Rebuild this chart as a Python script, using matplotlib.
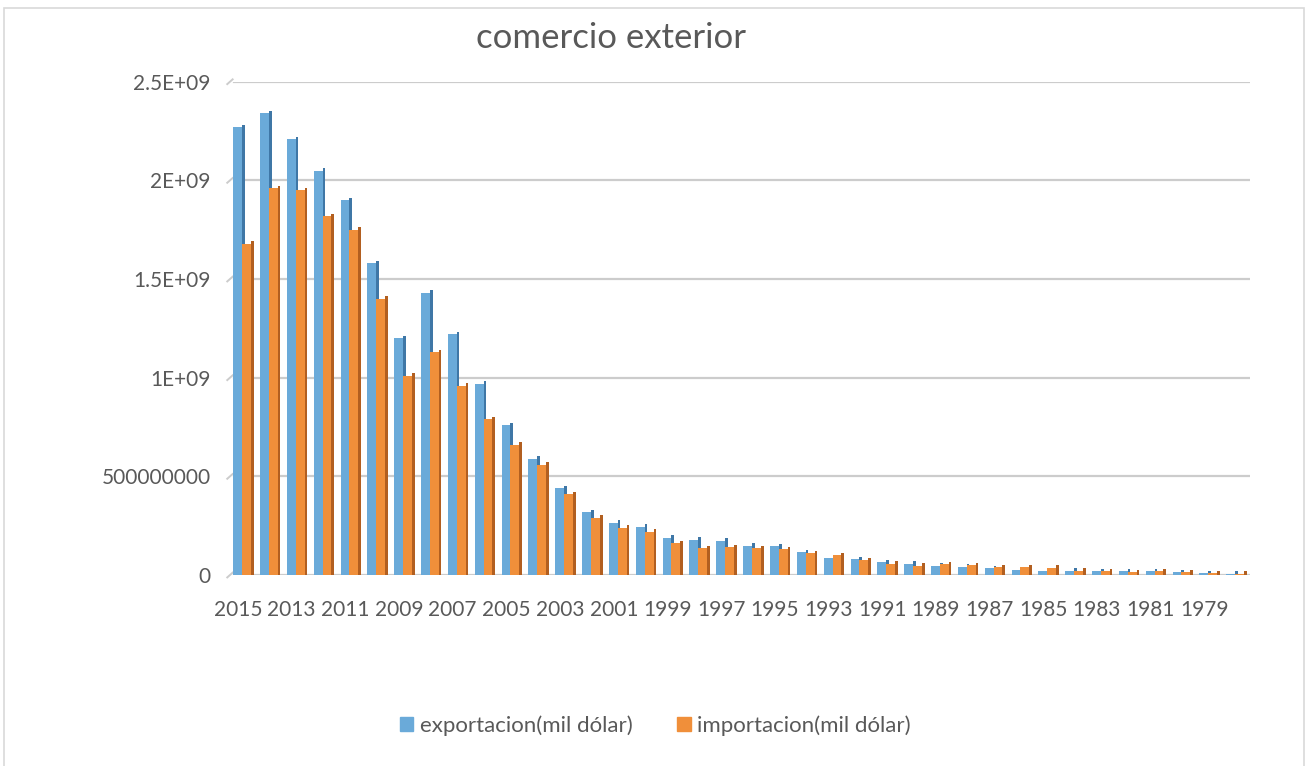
import matplotlib.pyplot as plt
from matplotlib.patches import Rectangle

years = list(range(2015, 1977, -1))
exportacion = [2.27e9, 2.34e9, 2.21e9, 2.05e9, 1.90e9, 1.58e9, 1.20e9, 1.43e9, 1.22e9, 0.97e9,
               0.76e9, 0.59e9, 0.44e9, 0.32e9, 0.265e9, 0.245e9, 0.19e9, 0.18e9, 0.175e9, 0.148e9,
               0.145e9, 0.117e9, 0.087e9, 0.080e9, 0.066e9, 0.058e9, 0.048e9, 0.043e9, 0.036e9, 0.028e9,
               0.022e9, 0.022e9, 0.018e9, 0.018e9, 0.018e9, 0.014e9, 0.010e9, 0.006e9]
importacion = [1.68e9, 1.96e9, 1.95e9, 1.82e9, 1.75e9, 1.40e9, 1.01e9, 1.13e9, 0.96e9, 0.79e9,
               0.66e9, 0.56e9, 0.41e9, 0.29e9, 0.24e9, 0.22e9, 0.16e9, 0.135e9, 0.14e9, 0.135e9,
               0.13e9, 0.112e9, 0.100e9, 0.076e9, 0.058e9, 0.048e9, 0.055e9, 0.050e9, 0.040e9, 0.040e9,
               0.037e9, 0.022e9, 0.018e9, 0.016e9, 0.019e9, 0.016e9, 0.010e9, 0.007e9]
yticks = [0, 5e8, 1e9, 1.5e9, 2e9, 2.5e9]
ytick_labels = ['0', '500000000', '1E+09', '1.5E+09', '2E+09', '2.5E+09']

plt.rcParams['font.family'] = ['Lato', 'DejaVu Sans']
text_color = '#595959'
blue, blue_dark = '#6aaad9', '#3f77a6'
orange, orange_dark = '#f08f3a', '#b25f20'

fig = plt.figure(figsize=(13.11, 7.66), dpi=100)
fig.patches.append(Rectangle((0.003, -0.01), 0.992, 1.0, transform=fig.transFigure,
                             fill=False, edgecolor='#d9d9d9', linewidth=1.2))
ax = fig.add_axes([0.1754, 0.2493, 0.778, 0.644])

n = len(years)
x = list(range(n))
bw = 0.33
side = 0.1
lift = 0.012e9

# grid lines with the little slanted "wall" segment on the left
for yv in yticks:
    ax.axhline(yv, color='#cccccc', linewidth=1.6, zorder=0, xmin=0.004)
    ax.plot([-0.6, -0.4], [yv - lift, yv + lift], color='#cccccc', linewidth=1.4,
            clip_on=False, zorder=0)

xb = [i - 0.38 for i in x]
xo = [i - 0.05 for i in x]
ax.bar(xb, exportacion, width=bw, align='edge', color=blue, zorder=2)
ax.bar([v + bw for v in xb], [v + lift for v in exportacion], width=side, align='edge',
       color=blue_dark, zorder=1)
ax.bar(xo, importacion, width=bw, align='edge', color=orange, zorder=3)
ax.bar([v + bw for v in xo], [v + lift for v in importacion], width=side, align='edge',
       color=orange_dark, zorder=2)

ax.set_xlim(-0.5, n - 0.5)
ax.set_ylim(0, 2.5e9)
ax.set_yticks(yticks)
ax.set_yticklabels(ytick_labels)
ax.set_xticks([i - 0.2 for i in x[::2]])
ax.set_xticklabels([str(y) for y in years[::2]])
ax.tick_params(axis='both', length=0, colors=text_color, labelsize=15)
ax.tick_params(axis='y', pad=14)
ax.tick_params(axis='x', pad=18)
for s in ax.spines.values():
    s.set_visible(False)

fig.text(0.466, 0.95, 'comercio exterior', ha='center', va='center', fontsize=25,
         color=text_color)

handles = [Rectangle((0, 0), 1, 1, color=blue), Rectangle((0, 0), 1, 1, color=orange)]
fig.legend(handles, ['exportacion(mil dólar)', 'importacion(mil dólar)'], loc='center',
           bbox_to_anchor=(0.5, 0.053), ncol=2, frameon=False, fontsize=16,
           labelcolor=text_color, handlelength=0.6, handleheight=0.6, handletextpad=0.3,
           columnspacing=2.0)

fig.savefig('out.png', dpi=100)
